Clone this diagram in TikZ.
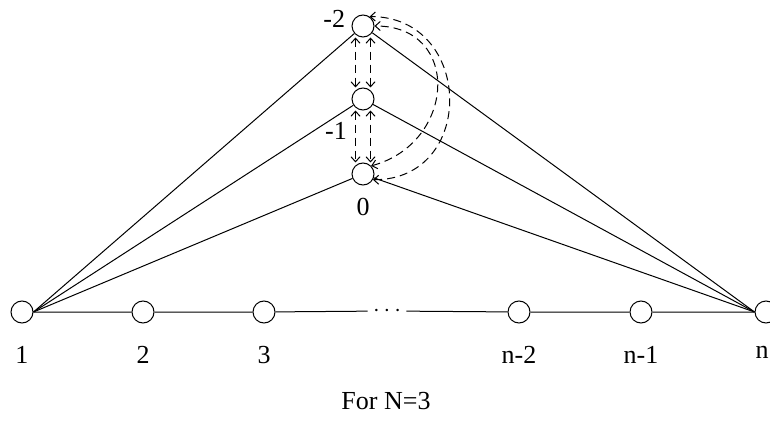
\documentclass[tikz,border=0pt]{standalone}
\usepackage{fontspec}
\setmainfont{Liberation Serif}
\usetikzlibrary{arrows.meta, positioning}
\tikzset{
  vert/.style={draw=black, circle, minimum size=11pt, inner sep=0pt, line width=0.5pt},
  lbl/.style={font=\fontsize{13}{15}\selectfont, inner sep=1pt},
  edge/.style={draw=black, line width=0.5pt},
  dasharrow/.style={{Straight Barb[length=2.5pt,width=4.5pt]}-{Straight Barb[length=2.5pt,width=4.5pt]}, dash pattern=on 4pt off 2.5pt, line width=0.5pt}
}

\begin{document}
\begin{tikzpicture}[x=0.5pt, y=-0.5pt, node distance=10pt]
\useasboundingbox (0,0) rectangle (770,422);

% top vertices
\node[vert] (m2) at (363,26) {};
\node[vert] (m1) at (363,99) {};
\node[vert] (m0) at (363,174) {};

% path vertices
\node[vert] (b1) at (22,312) {};
\node[vert] (b2) at (143,312) {};
\node[vert] (b3) at (264,312) {};
\node[lbl, inner sep=2.5pt] (dots) at (387,311) {$\cdots$};
\node[vert] (b4) at (519,312) {};
\node[vert] (b5) at (641,312) {};
\node[vert] (bn) at (766,312) {};

% labels
\node[lbl, below=of b1] (l1) {1};
\node[lbl, below=of b2] (l2) {2};
\node[lbl, below=of b3] (l3) {3};
\node[lbl, below=of b4] (l4) {n-2};
\node[lbl, below=of b5] (l5) {n-1};
\node[lbl, below=of bn, xshift=-2pt] (ln) {n};
\node[lbl, left=2pt of m2, yshift=3.5pt] (lm2) {-2};
\node[lbl] (lm1) at (336,131) {-1};
\node[lbl, below=5pt of m0] (lm0) {0};
\node[lbl] (cap) at (386,401) {For N=3};

\draw[edge] (b1) -- (b2) -- (b3) -- (dots) -- (b4) -- (b5) -- (bn);
\foreach \m in {m2,m1,m0} {
  \draw[edge] (b1.east) -- (\m);
  \draw[edge] (bn.west) -- (\m);
}

\draw[dasharrow] ([xshift=-3.75pt]m2.south) -- ([xshift=-3.75pt]m1.north);
\draw[dasharrow] ([xshift=3.75pt]m2.south) -- ([xshift=3.75pt]m1.north);
\draw[dasharrow] ([xshift=-3.75pt]m1.south) -- ([xshift=-3.75pt]m0.north);
\draw[dasharrow] ([xshift=3.75pt]m1.south) -- ([xshift=3.75pt]m0.north);

\draw[dasharrow] (m0.-30) to[out=0, in=0, looseness=1.63] (m2.55);
\draw[dasharrow] (m0.45) to[out=15, in=0, looseness=1.6] (m2.0);

\end{tikzpicture}
\end{document}
